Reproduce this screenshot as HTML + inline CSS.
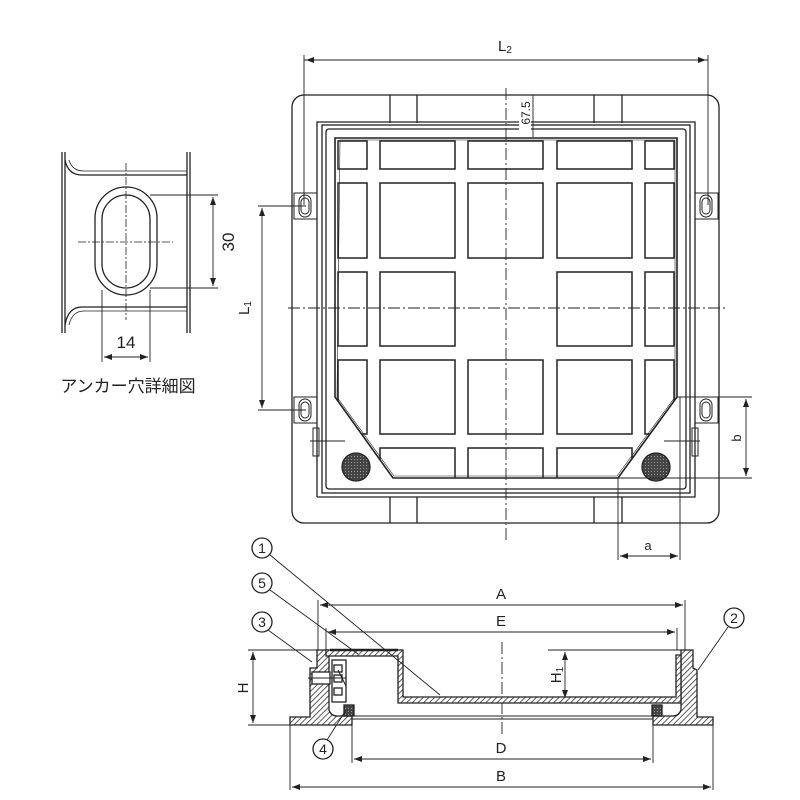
<!DOCTYPE html>
<html><head><meta charset="utf-8"><style>
html,body{margin:0;padding:0;background:#fff}
svg{display:block}
text{font-family:"Liberation Sans","Noto Sans CJK JP",sans-serif;fill:#222}
</style></head><body>
<svg width="800" height="800" viewBox="0 0 800 800" xmlns="http://www.w3.org/2000/svg">
<defs>
<pattern id="h" width="4" height="4" patternUnits="userSpaceOnUse" patternTransform="rotate(45)">
<rect width="4" height="4" fill="#fff"/><line x1="0" y1="0" x2="0" y2="4" stroke="#333" stroke-width="1.6"/></pattern>
<pattern id="dk" width="3" height="3" patternUnits="userSpaceOnUse"><rect width="3" height="3" fill="#444"/><rect width="1" height="1" fill="#999"/></pattern>
<clipPath id="gc"><polygon points="335,138 677,138 677,397 618,478 393,478 335,397"/></clipPath>
<marker id="ar" markerWidth="8" markerHeight="6" refX="8" refY="3" orient="auto-start-reverse" markerUnits="userSpaceOnUse"><path d="M0,0 L8,3 L0,6 z" fill="#222"/></marker>
</defs>
<g fill="none" stroke="#222" stroke-width="1.3">
<rect x="292" y="95" width="427" height="428" rx="12"/>
<path d="M390,95 V123 M417,95 V123 M594,95 V123 M622,95 V123 M390,523 V497 M417,523 V497 M594,523 V497 M622,523 V497"/>
<path d="M317,497 V122 H340 M317,122 H695 V497 H317"/>
<rect x="322" y="125" width="368" height="368"/>
<rect x="326" y="129" width="360" height="360" rx="3"/>
<polygon points="335,138 677,138 677,397 618,478 393,478 335,397" stroke-width="1.6"/>
<g clip-path="url(#gc)" stroke-width="1.5">
<rect x="338" y="141" width="29" height="28"/><rect x="380" y="141" width="75" height="28"/><rect x="468" y="141" width="75" height="28"/><rect x="557" y="141" width="75" height="28"/><rect x="645" y="141" width="29" height="28"/>
<rect x="338" y="183" width="29" height="75"/><rect x="380" y="183" width="75" height="75"/><rect x="468" y="183" width="75" height="75"/><rect x="557" y="183" width="75" height="75"/><rect x="645" y="183" width="29" height="75"/>
<rect x="338" y="272" width="29" height="74"/><rect x="380" y="272" width="75" height="74"/><rect x="557" y="272" width="75" height="74"/><rect x="645" y="272" width="29" height="74"/>
<rect x="338" y="360" width="29" height="74"/><rect x="380" y="360" width="75" height="74"/><rect x="468" y="360" width="75" height="74"/><rect x="557" y="360" width="75" height="74"/><rect x="645" y="360" width="29" height="74"/>
<rect x="380" y="448" width="75" height="40"/><rect x="468" y="448" width="75" height="40"/><rect x="557" y="448" width="75" height="40"/>
</g>
<polygon points="340,140 675,140 675,397 617,476 394,476 337,397" stroke-width="0.6"/>
<circle cx="356" cy="467" r="14" fill="url(#dk)"/>
<circle cx="656" cy="467" r="14" fill="url(#dk)"/>
<g stroke-width="1">
<rect x="294" y="193" width="23" height="26"/><rect x="299" y="195" width="12" height="22" rx="6"/><rect x="301" y="198" width="8" height="16" rx="4"/>
<rect x="294" y="397" width="23" height="26"/><rect x="299" y="399" width="12" height="22" rx="6"/><rect x="301" y="402" width="8" height="16" rx="4"/>
<rect x="695" y="193" width="23" height="26"/><rect x="700" y="195" width="12" height="22" rx="6"/><rect x="702" y="198" width="8" height="16" rx="4"/>
<rect x="695" y="397" width="23" height="26"/><rect x="700" y="399" width="12" height="22" rx="6"/><rect x="702" y="402" width="8" height="16" rx="4"/>
<rect x="313" y="428" width="6" height="28"/><rect x="692" y="428" width="6" height="28"/>
<path d="M310,441 H345 M664,441 H700"/>
</g>
<path d="M506,88 V540 M288,308 H728" stroke-width="0.9" stroke-dasharray="12,3,2,3"/>
<path d="M304,55 V205 M708,55 V205 M304,60 H708" stroke-width="0.9"/>
<path d="M306,60 H706" stroke-width="0.9" marker-start="url(#ar)" marker-end="url(#ar)"/>
<path d="M533,95 V137" stroke-width="0.9"/>
<path d="M258,206 H306 M258,410 H306" stroke-width="0.9"/>
<path d="M262,208 V408" stroke-width="0.9" marker-start="url(#ar)" marker-end="url(#ar)"/>
<path d="M677,397 H752 M618,478 H752" stroke-width="0.9"/>
<path d="M746,399 V476" stroke-width="0.9" marker-start="url(#ar)" marker-end="url(#ar)"/>
<path d="M618,478 V560 M680,397 V560" stroke-width="0.9"/>
<path d="M620,556 H678" stroke-width="0.9" marker-start="url(#ar)" marker-end="url(#ar)"/>

<path d="M318,600 V650 M685,600 V650 M326,628 V650 M677,628 V650 M290,720 V790 M713,720 V790 M352,720 V763 M653,720 V763" stroke-width="0.9"/>
<path d="M320,605 H683" stroke-width="0.9" marker-start="url(#ar)" marker-end="url(#ar)"/>
<path d="M328,632 H675" stroke-width="0.9" marker-start="url(#ar)" marker-end="url(#ar)"/>
<path d="M354,759 H651" stroke-width="0.9" marker-start="url(#ar)" marker-end="url(#ar)"/>
<path d="M292,787 H711" stroke-width="0.9" marker-start="url(#ar)" marker-end="url(#ar)"/>
<path d="M248,650 H320 M248,725 H292" stroke-width="0.9"/>
<path d="M253,652 V723" stroke-width="0.9" marker-start="url(#ar)" marker-end="url(#ar)"/>
<path d="M548,650 H685 M548,700 H570" stroke-width="0.9"/>
<path d="M565,652 V698" stroke-width="0.9" marker-start="url(#ar)" marker-end="url(#ar)"/>
<path d="M502,642 V735" stroke-width="0.9" stroke-dasharray="12,3,2,3"/>
<!-- frame -->
<path d="M317,650 H329 V710 Q331,716 337,716 H352 V725 H290 V717 H310 V668 H317 Z" fill="url(#h)"/>
<path d="M693,650 H681 V710 Q679,716 673,716 H653 V725 H713 V717 H697 V670 L693,668 Z" fill="url(#h)"/>
<!-- cover -->
<path d="M326,650 H403 V697 H676 V655 H681 V703 H398 V656 H326 Z" fill="url(#h)"/>
<path d="M330,650 H398" stroke-width="2.5"/>
<rect x="344" y="705" width="10" height="11" fill="url(#dk)"/>
<rect x="652" y="705" width="10" height="11" fill="url(#dk)"/>
<path d="M352,716 H653 M352,719 H653" stroke-width="0.9"/>
<rect x="332" y="660" width="14" height="42" fill="#fff"/>
<rect x="334" y="665" width="8" height="7"/><rect x="334" y="675" width="8" height="7"/><rect x="334" y="688" width="8" height="7"/>
<rect x="312" y="672" width="18" height="12" fill="#fff"/>
<path d="M308,678 H346 M338,670 L346,686" stroke-width="1"/>
<circle cx="262" cy="548" r="10" fill="#fff"/>
<circle cx="262" cy="583" r="10" fill="#fff"/>
<circle cx="262" cy="622" r="10" fill="#fff"/>
<circle cx="734" cy="618" r="10" fill="#fff"/>
<circle cx="323" cy="749" r="10" fill="#fff"/>
<path d="M270,555 L440,695 M270,590 L358,654 M268,630 L312,662 M728,627 L698,670 M327,740 L346,710" stroke-width="0.9"/>

<path d="M62,152 V333 M65,152 V333 M187,152 V333 M190,152 V333"/>
<path d="M65,160 Q68,175 82,175 H187 M65,325 Q68,307 82,307 H187"/>
<path d="M69,160 Q72,171 84,171 H187 M69,325 Q72,311 84,311 H187" stroke-width="0.8"/>
<rect x="95" y="187" width="62" height="108" rx="31"/>
<rect x="102" y="195" width="48" height="93" rx="24"/>
<path d="M126,163 V320 M78,242 H173" stroke-width="0.8" stroke-dasharray="8,2,2,2"/>
<path d="M150,195 H218 M150,288 H218 M102,290 V362 M150,290 V362" stroke-width="0.9"/>
<path d="M213,197 V286" stroke-width="0.9" marker-start="url(#ar)" marker-end="url(#ar)"/>
<path d="M104,357 H148" stroke-width="0.9" marker-start="url(#ar)" marker-end="url(#ar)"/>
</g>
<g font-size="15">
<text x="505" y="51" text-anchor="middle">L<tspan font-size="10" dy="2">2</tspan></text>
<text transform="translate(249,308) rotate(-90)" text-anchor="middle">L<tspan font-size="10" dy="2">1</tspan></text>
<rect x="519" y="96" width="12" height="36" fill="#fff"/>
<text transform="translate(530,113) rotate(-90)" text-anchor="middle" font-size="12">67.5</text>
<text transform="translate(741,438) rotate(-90)" text-anchor="middle" font-size="13">b</text>
<text x="648" y="550" text-anchor="middle" font-size="13">a</text>
<text x="501" y="599" text-anchor="middle">A</text>
<text x="501" y="626" text-anchor="middle">E</text>
<text x="501" y="753" text-anchor="middle">D</text>
<text x="501" y="781" text-anchor="middle">B</text>
<text transform="translate(248,688) rotate(-90)" text-anchor="middle">H</text>
<text transform="translate(561,675) rotate(-90)" text-anchor="middle">H<tspan font-size="10" dy="2">1</tspan></text>
<text x="262" y="553" text-anchor="middle" font-size="14">1</text>
<text x="262" y="588" text-anchor="middle" font-size="14">5</text>
<text x="262" y="627" text-anchor="middle" font-size="14">3</text>
<text x="734" y="623" text-anchor="middle" font-size="14">2</text>
<text x="323" y="754" text-anchor="middle" font-size="14">4</text>
<text transform="translate(234,242) rotate(-90)" text-anchor="middle" font-size="17">30</text>
<text x="126" y="348" text-anchor="middle" font-size="17">14</text>
<text x="128" y="392" text-anchor="middle" font-size="17">アンカー穴詳細図</text>
</g>
</svg>
</body></html>
